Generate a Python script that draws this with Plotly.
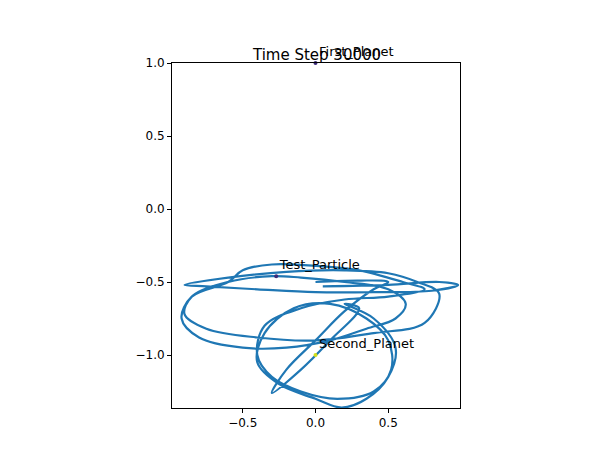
import plotly.graph_objects as go

# trajectory of the test particle (approximate)
traj_x = [0.05, 0.5, 0.85, 0.98, 0.8, 0.4, 0.0, -0.4, -0.75, -0.9, -0.6, -0.2, 0.2, 0.5, 0.7, 0.85,
          0.75, 0.4, 0.0, -0.4, -0.75, -0.9, -0.85, -0.6, -0.3, -0.1, 0.2, 0.5, 0.62, 0.55, 0.35,
          0.1, -0.2, -0.5, -0.8, -0.92, -0.85, -0.6, -0.5, -0.3, 0.0, 0.3, 0.6, 0.75, 0.5, 0.2,
          -0.1, -0.35, -0.4, -0.3, -0.1, 0.15, 0.4, 0.52, 0.5, 0.35, 0.1, -0.15, -0.35, -0.4,
          -0.25, 0.0, 0.18, 0.35, 0.5, 0.55, 0.4, 0.2, 0.3, 0.1, -0.1, -0.3, -0.2, 0.0, 0.2,
          0.4, 0.5, 0.3, 0.0]
traj_y = [-0.53, -0.52, -0.50, -0.52, -0.56, -0.57, -0.57, -0.55, -0.53, -0.52, -0.47, -0.43,
          -0.42, -0.44, -0.5, -0.58, -0.78, -0.85, -0.9, -0.88, -0.82, -0.72, -0.6, -0.5, -0.46,
          -0.47, -0.5, -0.55, -0.65, -0.75, -0.82, -0.9, -0.95, -0.95, -0.88, -0.75, -0.6, -0.5,
          -0.42, -0.38, -0.39, -0.42, -0.5, -0.55, -0.6, -0.62, -0.68, -0.8, -1.0, -1.15, -1.25,
          -1.3, -1.25, -1.1, -0.9, -0.75, -0.65, -0.68, -0.85, -1.05, -1.2, -1.3, -1.36, -1.3,
          -1.15, -0.95, -0.75, -0.65, -0.68, -0.9, -1.1, -1.26, -1.1, -0.9, -0.7, -0.55, -0.5,
          -0.49, -0.5]

bodies = ["Test_Particle", "Second_Planet", "First_Planet"]
body_x = [-0.27, 0.0, 0.0]
body_y = [-0.46, -1.0, 1.0]
body_col = ["#3b2a7a", "#d4e01a", "#3b2a7a"]

fig = go.Figure()
fig.add_trace(go.Scatter(x=traj_x, y=traj_y, mode="lines",
                         line=dict(color="#1f77b4", width=2.2, shape="spline", smoothing=1.0)))
fig.add_trace(go.Scatter(x=body_x, y=body_y, mode="markers+text", text=bodies,
                         textposition="top right", textfont=dict(size=13, color="black"),
                         marker=dict(color=body_col, size=4), cliponaxis=False))

fig.update_layout(
    width=600, height=450, showlegend=False,
    paper_bgcolor="white", plot_bgcolor="white",
    margin=dict(l=164, r=148, t=55, b=50, autoexpand=False),
    font=dict(family="DejaVu Sans", size=12, color="black"),
    title=dict(text="Time Step 30000", x=0.515, xanchor="center", y=0.885, yanchor="bottom",
               font=dict(size=15)),
)
axis = dict(showgrid=False, zeroline=False, showline=True, linecolor="black", mirror=True,
            ticks="outside", ticklen=4, tickcolor="black", automargin=False)
fig.update_xaxes(range=[-0.986, 0.993], tickvals=[-0.5, 0, 0.5], ticktext=["−0.5", "0.0", "0.5"], **axis)
fig.update_yaxes(range=[-1.363, 1.0], tickvals=[-1, -0.5, 0, 0.5, 1],
                 ticktext=["−1.0", "−0.5", "0.0", "0.5", "1.0"], **axis)

fig.write_html("out.html")
